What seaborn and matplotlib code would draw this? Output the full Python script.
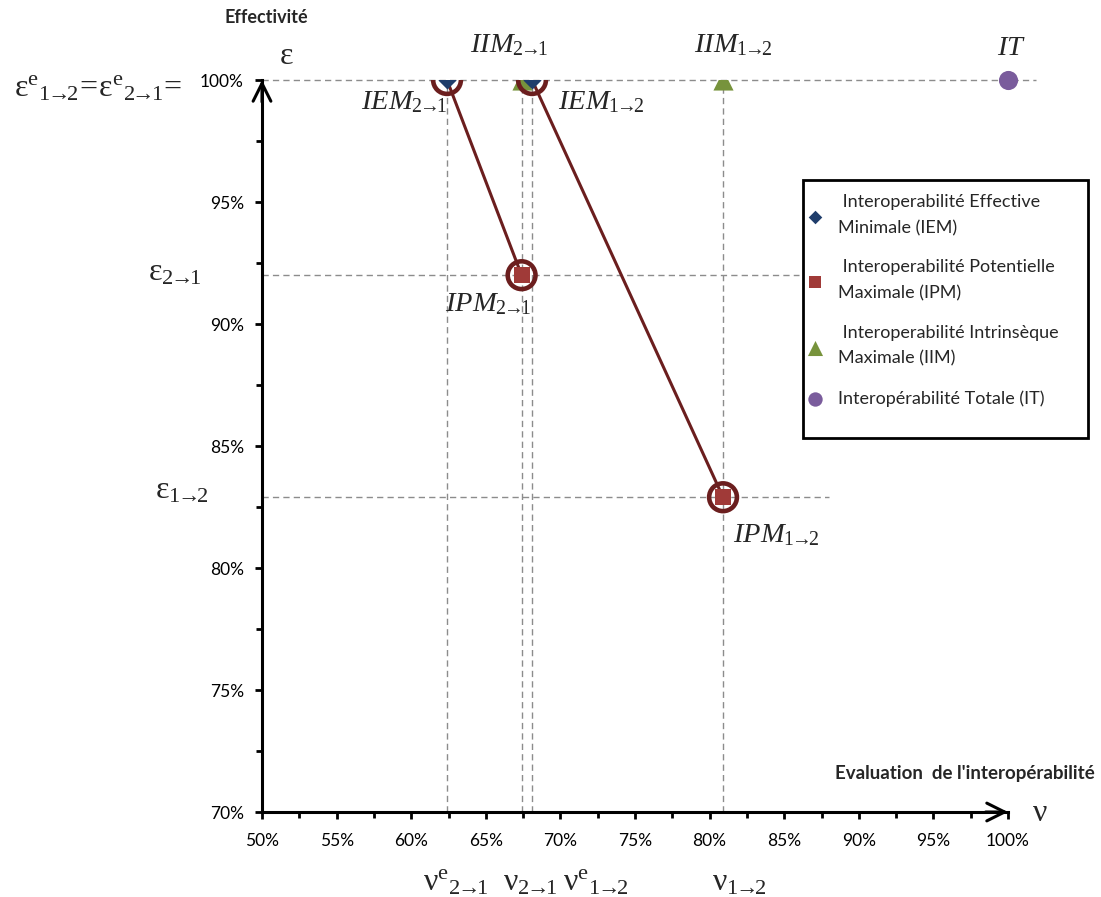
import matplotlib
matplotlib.use('Agg')
import matplotlib.pyplot as plt
import seaborn as sns
import pandas as pd
from matplotlib.ticker import MultipleLocator, StrMethodFormatter
from matplotlib.patches import Rectangle

# Valeurs (en %)
iem_x = [62.4, 68.1]
iem_y = [100.0, 100.0]
ipm_x = [67.4, 80.9]
ipm_y = [92.0, 82.9]
iim_x = [67.4, 80.9]
iim_y = [100.0, 100.0]
it_x = [100.0]
it_y = [100.0]

legend_labels = [
    " Interoperabilité Effective\nMinimale (IEM)",
    " Interoperabilité Potentielle\nMaximale (IPM)",
    " Interoperabilité Intrinsèque\nMaximale (IIM)",
    "Interopérabilité Totale (IT)",
]
x_ticks = [50, 55, 60, 65, 70, 75, 80, 85, 90, 95, 100]
y_ticks = [70, 75, 80, 85, 90, 95, 100]

C_IEM = '#1F3D6B'
C_IPM = '#A03A38'
C_IIM = '#77933C'
C_IT = '#7A5C9C'
C_RING = '#6B1E1E'
C_GRID = '#8C8C8C'
PX = 72 / 100  # pixels -> points
A12 = r'1\!→\!2'
A21 = r'2\!→\!1'

sns.set_style('white')
plt.rcParams['font.family'] = ['Lato', 'DejaVu Sans']
plt.rcParams['mathtext.fontset'] = 'custom'
plt.rcParams['mathtext.rm'] = 'Liberation Serif'
plt.rcParams['mathtext.it'] = 'Liberation Serif:italic'

fig = plt.figure(figsize=(11.01, 8.97), dpi=100)
ax = fig.add_axes([262 / 1101, 85 / 897, 746 / 1101, 732 / 897])

# lignes de repere en pointilles
dash = dict(color=C_GRID, lw=1, linestyle=(0, (4.5, 3)), zorder=1)
ax.vlines(iem_x + ipm_x, 70, 100, clip_on=False, **dash)
ax.hlines(iem_y[0], 50, 101.9, clip_on=False, **dash)
ax.hlines(ipm_y, 50, [86, 88], clip_on=False, **dash)

# liaisons IEM -> IPM
links = pd.DataFrame({
    'x': [iem_x[0], ipm_x[0], iem_x[1], ipm_x[1]],
    'y': [iem_y[0], ipm_y[0], iem_y[1], ipm_y[1]],
    'pair': [0, 0, 1, 1],
})
sns.lineplot(data=links, x='x', y='y', units='pair', estimator=None, sort=False,
             color=C_RING, lw=2.2, legend=False, ax=ax, zorder=2)

# points
sns.scatterplot(x=iem_x, y=iem_y, marker='D', s=85, color=C_IEM, linewidth=0,
                label=legend_labels[0], ax=ax, zorder=5)
sns.scatterplot(x=ipm_x, y=ipm_y, marker='s', s=121, color=C_IPM, linewidth=0,
                label=legend_labels[1], ax=ax, zorder=4)
sns.scatterplot(x=iim_x, y=iim_y, marker='^', s=210, color=C_IIM, linewidth=0,
                label=legend_labels[2], ax=ax, zorder=3)
sns.scatterplot(x=it_x, y=it_y, marker='o', s=190, color=C_IT, linewidth=0,
                label=legend_labels[3], ax=ax, zorder=3, clip_on=False)

# cercles autour des points IEM / IPM
sns.scatterplot(x=links['x'], y=links['y'], marker='o', s=400, facecolor='none',
                edgecolor=C_RING, linewidth=3.3, legend=False, ax=ax, zorder=6)

# axes
ax.set_xlim(50, 100)
ax.set_ylim(70, 100)
ax.set_xticks(x_ticks)
ax.set_yticks(y_ticks)
ax.xaxis.set_minor_locator(MultipleLocator(2.5))
ax.yaxis.set_minor_locator(MultipleLocator(2.5))
ax.xaxis.set_major_formatter(StrMethodFormatter('{x:.0f}%'))
ax.yaxis.set_major_formatter(StrMethodFormatter('{x:.0f}%'))
ax.tick_params(which='both', direction='out', bottom=True, left=True, width=2,
               color='black', labelcolor='black')
ax.tick_params(which='major', length=5, labelsize=12.5)
ax.tick_params(which='minor', length=4)
ax.tick_params(axis='x', pad=10)
ax.tick_params(axis='y', pad=8)
ax.set_xlabel('')
ax.set_ylabel('')
for s in ['top', 'right']:
    ax.spines[s].set_visible(False)
for s in ['left', 'bottom']:
    ax.spines[s].set_linewidth(2.2)
    ax.spines[s].set_color('black')

arrow = dict(arrowstyle='->', lw=2.2, color='black', mutation_scale=32, shrinkA=0, shrinkB=0)
ax.annotate('', xy=(1, 0), xytext=(0.97, 0), xycoords='axes fraction',
            arrowprops=arrow, annotation_clip=False)
ax.annotate('', xy=(0, 1), xytext=(0, 0.97), xycoords='axes fraction',
            arrowprops=arrow, annotation_clip=False)

# etiquettes des points
point_labels = [
    ('$IEM_{%s}$' % A21, iem_x[0], iem_y[0], 1, -22, 'right'),
    ('$IEM_{%s}$' % A12, iem_x[1], iem_y[1], 26, -22, 'left'),
    ('$IIM_{%s}$' % A21, iim_x[0], iim_y[0], -12, 35, 'center'),
    ('$IIM_{%s}$' % A12, iim_x[1], iim_y[1], 10, 35, 'center'),
    (r'$IT$', it_x[0], it_y[0], 4, 33, 'center'),
    ('$IPM_{%s}$' % A21, ipm_x[0], ipm_y[0], -77, -29, 'left'),
    ('$IPM_{%s}$' % A12, ipm_x[1], ipm_y[1], 10, -38, 'left'),
]
for txt, x, y, dx, dy, ha in point_labels:
    ax.annotate(txt, xy=(x, y), xytext=(dx * PX, dy * PX), textcoords='offset points',
                ha=ha, va='center', fontsize=20.5, annotation_clip=False)

# valeurs sur les axes
eps_eq = r'$\mathrm{ε}^{\mathrm{e}}{}_{%s}\!=\!\mathrm{ε}^{\mathrm{e}}{}_{%s}\!=$' % (A12, A21)
axis_labels = [
    (eps_eq, -0.107, iem_y[0], 0, -8, 'right', ('axes fraction', 'data')),
    (r'$\mathrm{ε}_{%s}$' % A21, -0.153, ipm_y[0], 0, 3, 'left', ('axes fraction', 'data')),
    (r'$\mathrm{ε}_{%s}$' % A12, -0.143, ipm_y[1], 0, 7, 'left', ('axes fraction', 'data')),
    (r'$\mathrm{ν}^{\mathrm{e}}{}_{%s}$' % A21, iem_x[0], 0, -24, -70, 'left', ('data', 'axes fraction')),
    (r'$\mathrm{ν}_{%s}$' % A21, ipm_x[0], 0, -19, -70, 'left', ('data', 'axes fraction')),
    (r'$\mathrm{ν}^{\mathrm{e}}{}_{%s}$' % A12, iem_x[1], 0, 31, -70, 'left', ('data', 'axes fraction')),
    (r'$\mathrm{ν}_{%s}$' % A12, ipm_x[1], 0, -11, -70, 'left', ('data', 'axes fraction')),
]
for txt, x, y, dx, dy, ha, coords in axis_labels:
    ax.annotate(txt, xy=(x, y), xycoords=coords, xytext=(dx * PX, dy * PX),
                textcoords='offset points', ha=ha, va='center', fontsize=23,
                annotation_clip=False)

ax.text(0.032, 1.034, r'$\mathrm{ε}$', transform=ax.transAxes, ha='center', va='center', fontsize=23)
ax.text(1.043, 0.0, r'$\mathrm{ν}$', transform=ax.transAxes, ha='center', va='center', fontsize=23)
ax.text(-0.05, 1.085, 'Effectivité', transform=ax.transAxes, ha='left', va='center',
        fontsize=13, fontweight='bold')
ax.text(1.1166, 0.053, "Evaluation  de l'interopérabilité", transform=ax.transAxes,
        ha='right', va='center', fontsize=13.5, fontweight='bold')

# legende
leg = ax.legend(loc='upper left', bbox_to_anchor=(806 / 1101, 1 - 194 / 897),
                bbox_transform=fig.transFigure, frameon=False, fontsize=13,
                labelspacing=1.3, handlelength=1.0, handletextpad=0.8, borderpad=0,
                borderaxespad=0, markerscale=0.75)
for t in leg.get_texts():
    t.set_linespacing(1.75)
fig.add_artist(Rectangle((803 / 1101, 1 - 438 / 897), 285 / 1101, 258 / 897,
                         transform=fig.transFigure, fill=False, lw=2, ec='black'))

fig.savefig('out.png', dpi=100)
